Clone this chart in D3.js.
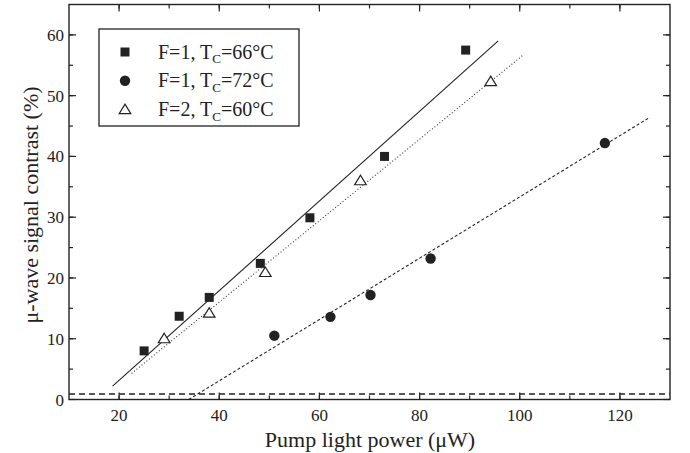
<!DOCTYPE html>
<html>
<head>
<meta charset="utf-8">
<script src="https://cdn.jsdelivr.net/npm/d3@7"></script>
<style>
  body { margin: 0; background: #fff; }
  text { font-family: "Liberation Serif", "Times New Roman", serif; fill: #222; }
</style>
</head>
<body>
<svg id="chart" width="690" height="453"></svg>
<script>
// measured points, one array per series: [power µW, contrast %]
const squares = [[25, 8], [32, 13.7], [38, 16.8], [48.2, 22.4], [58.1, 29.9], [73, 40], [89.2, 57.5]];
const circles = [[51, 10.5], [62.2, 13.6], [70.2, 17.2], [82.2, 23.2], [117, 42.2]];
const triangles = [[29, 10], [38, 14.2], [49.2, 20.9], [68.2, 36], [94.2, 52.3]];

// linear fits, drawn between two end points
const fitSquares = [[18.7, 2.2], [95.7, 59]];
const fitTriangles = [[22.5, 4.3], [100.7, 56.7]];
const fitCircles = [[33.9, 0], [125.7, 46.3]];
const baseline = [[10, 0.9], [130, 0.9]];

const xTicks = [20, 40, 60, 80, 100, 120];
const yTicks = [0, 10, 20, 30, 40, 50, 60];

const legendLabels = [
  { f: 'F=1, T', sub: 'C', t: '=66°C', shape: 'square' },
  { f: 'F=1, T', sub: 'C', t: '=72°C', shape: 'circle' },
  { f: 'F=2, T', sub: 'C', t: '=60°C', shape: 'triangle' }
];

const svg = d3.select('#chart');
const mLeft = 69, mRight = 670, mTop = 4.5, mBottom = 399.5;

const x = d3.scaleLinear().domain([10, 130]).range([mLeft, mRight]);
const y = d3.scaleLinear().domain([0, 65]).range([mBottom, mTop]);

const line = d3.line().x(d => x(d[0])).y(d => y(d[1]));

// fit lines
svg.append('path').attr('d', line(fitSquares))
  .attr('fill', 'none').attr('stroke', '#222').attr('stroke-width', 1.1);
svg.append('path').attr('d', line(fitTriangles))
  .attr('fill', 'none').attr('stroke', '#333').attr('stroke-width', 1.1)
  .attr('stroke-dasharray', '1,2.2');
svg.append('path').attr('d', line(fitCircles))
  .attr('fill', 'none').attr('stroke', '#222').attr('stroke-width', 1.1)
  .attr('stroke-dasharray', '3,2.2');
svg.append('path').attr('d', line(baseline))
  .attr('fill', 'none').attr('stroke', '#222').attr('stroke-width', 1.5)
  .attr('stroke-dasharray', '6,4');

// axes frame and ticks
const frame = svg.append('g');
frame.append('rect')
  .attr('x', mLeft).attr('y', mTop)
  .attr('width', mRight - mLeft).attr('height', mBottom - mTop)
  .attr('fill', 'none').attr('stroke', '#222').attr('stroke-width', 1.4);

const xMinor = d3.range(20, 130, 10);
const yMinor = d3.range(5, 65, 5);

const tickX = (vals, len) => {
  vals.forEach(v => {
    frame.append('line').attr('x1', x(v)).attr('x2', x(v))
      .attr('y1', mBottom).attr('y2', mBottom - len).attr('stroke', '#222').attr('stroke-width', 1.2);
    frame.append('line').attr('x1', x(v)).attr('x2', x(v))
      .attr('y1', mTop).attr('y2', mTop + len).attr('stroke', '#222').attr('stroke-width', 1.2);
  });
};
const tickY = (vals, len) => {
  vals.forEach(v => {
    frame.append('line').attr('y1', y(v)).attr('y2', y(v))
      .attr('x1', mLeft).attr('x2', mLeft + len).attr('stroke', '#222').attr('stroke-width', 1.2);
    frame.append('line').attr('y1', y(v)).attr('y2', y(v))
      .attr('x1', mRight).attr('x2', mRight - len).attr('stroke', '#222').attr('stroke-width', 1.2);
  });
};
tickX(xMinor, 4);
tickX(xTicks, 7);
tickY(yMinor, 4);
tickY(yTicks, 7);

frame.selectAll('.xl').data(xTicks).enter().append('text')
  .attr('x', d => x(d)).attr('y', 421)
  .attr('text-anchor', 'middle').attr('font-size', 17).text(d => d);
frame.selectAll('.yl').data(yTicks).enter().append('text')
  .attr('x', 64).attr('y', d => y(d) + 6)
  .attr('text-anchor', 'end').attr('font-size', 17).text(d => d);

svg.append('text').attr('x', 370).attr('y', 447)
  .attr('text-anchor', 'middle').attr('font-size', 22)
  .text('Pump light power (μW)');
svg.append('text')
  .attr('transform', 'translate(38,205) rotate(-90)')
  .attr('text-anchor', 'middle').attr('font-size', 22)
  .text('μ-wave signal contrast (%)');

// markers
const drawShape = (g, shape, cx, cy) => {
  if (shape === 'square') {
    g.append('rect').attr('x', cx - 4.5).attr('y', cy - 4.5)
      .attr('width', 9).attr('height', 9).attr('fill', '#222');
  } else if (shape === 'circle') {
    g.append('circle').attr('cx', cx).attr('cy', cy).attr('r', 5.2).attr('fill', '#222');
  } else {
    g.append('path')
      .attr('d', `M${cx},${cy - 5.5} L${cx + 5.8},${cy + 4} L${cx - 5.8},${cy + 4} Z`)
      .attr('fill', '#fff').attr('stroke', '#222').attr('stroke-width', 1.2);
  }
};
const marks = svg.append('g');
squares.forEach(d => drawShape(marks, 'square', x(d[0]), y(d[1])));
circles.forEach(d => drawShape(marks, 'circle', x(d[0]), y(d[1])));
triangles.forEach(d => drawShape(marks, 'triangle', x(d[0]), y(d[1])));

// legend
const legend = svg.append('g');
legend.append('rect').attr('x', 99).attr('y', 29).attr('width', 200).attr('height', 97)
  .attr('fill', '#fff').attr('stroke', '#222').attr('stroke-width', 1.3);
legendLabels.forEach((l, i) => {
  const cy = 52 + i * 28.8;
  drawShape(legend, l.shape, 125, cy);
  const t = legend.append('text').attr('x', 158).attr('y', cy + 6.5).attr('font-size', 20);
  t.append('tspan').text(l.f);
  t.append('tspan').attr('dy', 4.5).attr('font-size', 13).text(l.sub);
  t.append('tspan').attr('dy', -4.5).text(l.t);
});
</script>
</body>
</html>
